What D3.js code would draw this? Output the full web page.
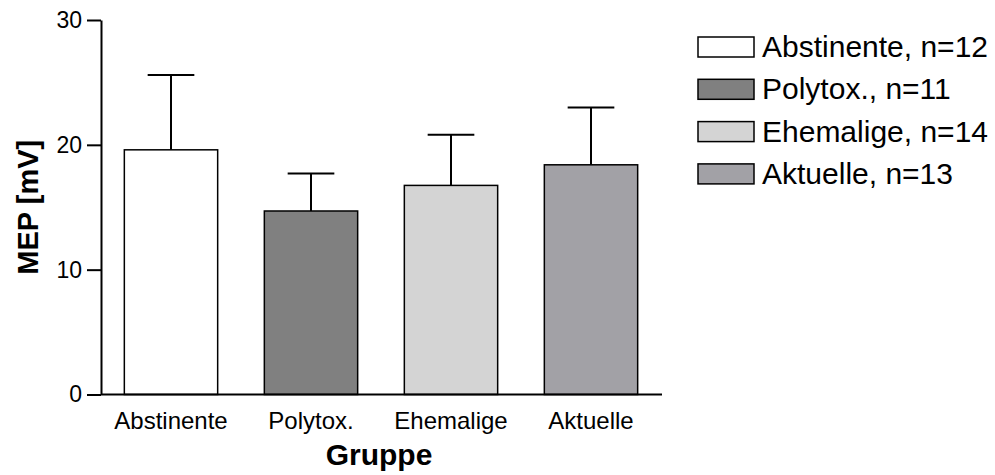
<!DOCTYPE html>
<html>
<head>
<meta charset="utf-8" />
<title>MEP nach Gruppe</title>
<script src="https://cdn.jsdelivr.net/npm/d3@7"></script>
<style>
    body { margin: 0; background: #fff; }
    svg text { font-family: "Liberation Sans", Arial, Helvetica, sans-serif; fill: #000; }
    .axis path, .axis line { stroke: #000; stroke-width: 2px; }
    .yaxis text { font-size: 23px; }
    .xaxis text { font-size: 24px; }
    .title { font-size: 30px; font-weight: bold; }
    .legend text { font-size: 30px; }
</style>
</head>
<body>
<svg id="chart" width="995" height="475"></svg>
<script>
// data
var groups = ["Abstinente", "Polytox.", "Ehemalige", "Aktuelle"];
var means = [19.6, 14.7, 16.75, 18.4];
var errTop = [25.6, 17.7, 20.8, 23.0];
var nCounts = [12, 11, 14, 13];
var fills = ["#ffffff", "#808080", "#d4d4d4", "#a2a1a6"];
var yTicks = [0, 10, 20, 30];

var svg = d3.select("#chart");

var x = d3.scaleBand().domain(groups).range([101, 661])
        .paddingInner(1/3).paddingOuter(1/6);
var y = d3.scaleLinear().domain([0, 30]).range([394.5, 20]);

// y axis
svg.append("g")
    .attr("class", "axis yaxis")
    .attr("transform", "translate(101,0)")
    .call(d3.axisLeft(y).tickValues(yTicks).tickSize(14).tickSizeOuter(0).tickPadding(5));

// bars
svg.selectAll(".bar")
    .data(groups)
    .enter().append("rect")
    .attr("class", "bar")
    .attr("x", function(d) { return x(d); })
    .attr("y", function(d, i) { return y(means[i]); })
    .attr("width", x.bandwidth())
    .attr("height", function(d, i) { return y(0) - y(means[i]); })
    .attr("fill", function(d, i) { return fills[i]; })
    .attr("stroke", "#000")
    .attr("stroke-width", 1.5);

// error bars (upper only)
var err = svg.selectAll(".err").data(groups).enter().append("g").attr("class", "err");
err.append("line")
    .attr("x1", function(d) { return x(d) + x.bandwidth() / 2; })
    .attr("x2", function(d) { return x(d) + x.bandwidth() / 2; })
    .attr("y1", function(d, i) { return y(means[i]); })
    .attr("y2", function(d, i) { return y(errTop[i]); })
    .attr("stroke", "#000").attr("stroke-width", 2);
err.append("line")
    .attr("x1", function(d) { return x(d) + x.bandwidth() / 4; })
    .attr("x2", function(d) { return x(d) + x.bandwidth() * 3 / 4; })
    .attr("y1", function(d, i) { return y(errTop[i]); })
    .attr("y2", function(d, i) { return y(errTop[i]); })
    .attr("stroke", "#000").attr("stroke-width", 2);

// x axis
var xAxis = svg.append("g")
    .attr("class", "axis xaxis")
    .attr("transform", "translate(0," + y(0) + ")")
    .call(d3.axisBottom(x).tickSize(0).tickSizeOuter(0).tickPadding(17));
xAxis.select(".domain").attr("d", "M101,0H662");

// axis titles
svg.append("text")
    .attr("class", "title")
    .attr("x", 379)
    .attr("y", 465)
    .attr("text-anchor", "middle")
    .text("Gruppe");
svg.append("text")
    .attr("class", "title")
    .attr("font-size", 29)
    .style("font-size", "29px")
    .attr("transform", "translate(38," + (y(0) + y(30)) / 2 + ") rotate(-90)")
    .attr("text-anchor", "middle")
    .text("MEP [mV]");

// legend
var leg = svg.append("g").attr("class", "legend")
    .selectAll("g").data(groups).enter().append("g")
    .attr("transform", function(d, i) { return "translate(698," + (37 + i * 42.3) + ")"; });
leg.append("rect")
    .attr("width", 56).attr("height", 20)
    .attr("fill", function(d, i) { return fills[i]; })
    .attr("stroke", "#000").attr("stroke-width", 1.5);
leg.append("text")
    .attr("x", 64).attr("y", 20)
    .text(function(d, i) { return d + ", n=" + nCounts[i]; });
</script>
</body>
</html>
